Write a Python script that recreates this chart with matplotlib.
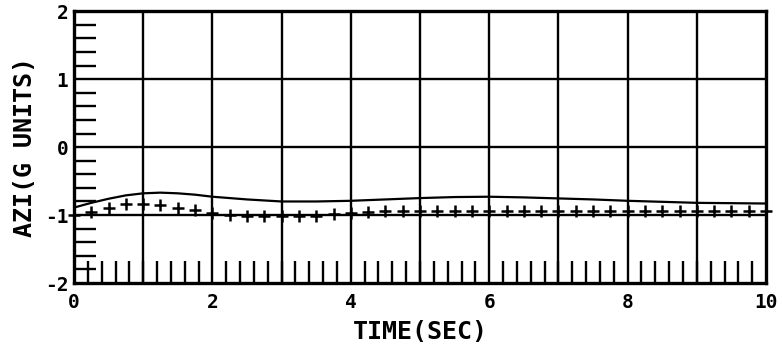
import numpy as np
import matplotlib
matplotlib.use("Agg")
import matplotlib.pyplot as plt
from matplotlib.ticker import MultipleLocator

# Solid line
line_t = [0.0, 0.25, 0.5, 0.75, 1.0, 1.25, 1.5, 1.75, 2.0, 2.5, 3.0, 3.5, 4.0, 4.5, 5.0, 5.5, 6.0, 6.5, 7.0, 7.5, 8.0, 8.5, 9.0, 9.5, 10.0]
line_v = [-0.89, -0.82, -0.76, -0.71, -0.68, -0.67, -0.68, -0.70, -0.73, -0.77, -0.80, -0.80, -0.79, -0.77, -0.75, -0.735, -0.73, -0.74, -0.755, -0.77, -0.79, -0.805, -0.82, -0.825, -0.83]

# "+" markers every 0.25 s
mark_t = [0.0, 0.25, 0.5, 0.75, 1.0, 1.25, 1.5, 1.75, 2.0, 2.25, 2.5, 2.75, 3.0, 3.25, 3.5, 3.75, 4.0,
          4.25, 4.5, 4.75, 5.0, 5.25, 5.5, 5.75, 6.0, 6.25, 6.5, 6.75, 7.0, 7.25, 7.5, 7.75, 8.0,
          8.25, 8.5, 8.75, 9.0, 9.25, 9.5, 9.75, 10.0]
mark_v = [-1.0, -0.96, -0.89, -0.84, -0.84, -0.85, -0.89, -0.93, -0.97, -1.0, -1.01, -1.02, -1.02, -1.02, -1.01, -0.985, -0.97,
          -0.95, -0.94, -0.94, -0.94, -0.94, -0.94, -0.94, -0.94, -0.94, -0.94, -0.94, -0.94, -0.94, -0.94, -0.94, -0.94,
          -0.94, -0.94, -0.94, -0.94, -0.94, -0.94, -0.94, -0.94]

x_ticks = [0, 2, 4, 6, 8, 10]
y_ticks = [-2, -1, 0, 1, 2]
y_tick_labels = ['-2', '-1', '0', '1', '2']

plt.rcParams['font.family'] = ['DejaVu Sans Mono', 'DejaVu Sans']
plt.rcParams['font.weight'] = 'bold'

fig = plt.figure(figsize=(7.82, 3.49), dpi=100)
ax = fig.add_axes([0.0946, 0.189, 0.885, 0.779])

ax.plot(line_t, line_v, color='black', lw=1.6)
ax.plot(mark_t, mark_v, linestyle='none', marker='+', color='black', ms=8, mew=1.8, clip_on=False)

ax.set_xlim(0, 10)
ax.set_ylim(-2, 2)
ax.set_xticks(x_ticks)
ax.set_yticks(y_ticks)
ax.set_xticklabels([str(v) for v in x_ticks], fontsize=14, fontweight='bold')
ax.set_yticklabels(y_tick_labels, fontsize=14, fontweight='bold')

# grid at each integer
for xv in range(1, 10):
    ax.axvline(xv, color='black', lw=1.7, zorder=1)
for yv in [-1, 0, 1]:
    ax.axhline(yv, color='black', lw=1.7, zorder=1)

ax.xaxis.set_minor_locator(MultipleLocator(0.2))
ax.yaxis.set_minor_locator(MultipleLocator(0.2))
ax.tick_params(which='minor', direction='in', length=16, width=1.7, color='black')
ax.tick_params(which='major', direction='in', length=0)
ax.tick_params(axis='y', which='major', pad=4)
ax.tick_params(axis='x', which='major', pad=7)
ax.tick_params(axis='x', which='minor', top=False)
ax.tick_params(axis='y', which='minor', right=False)

for s in ax.spines.values():
    s.set_linewidth(2.4)
    s.set_color('black')

ax.set_xlabel('TIME(SEC)', fontsize=18, fontweight='bold', labelpad=6)
ax.set_ylabel('AZI(G UNITS)', fontsize=18, fontweight='bold', labelpad=6)

fig.savefig('out.png', dpi=100)
